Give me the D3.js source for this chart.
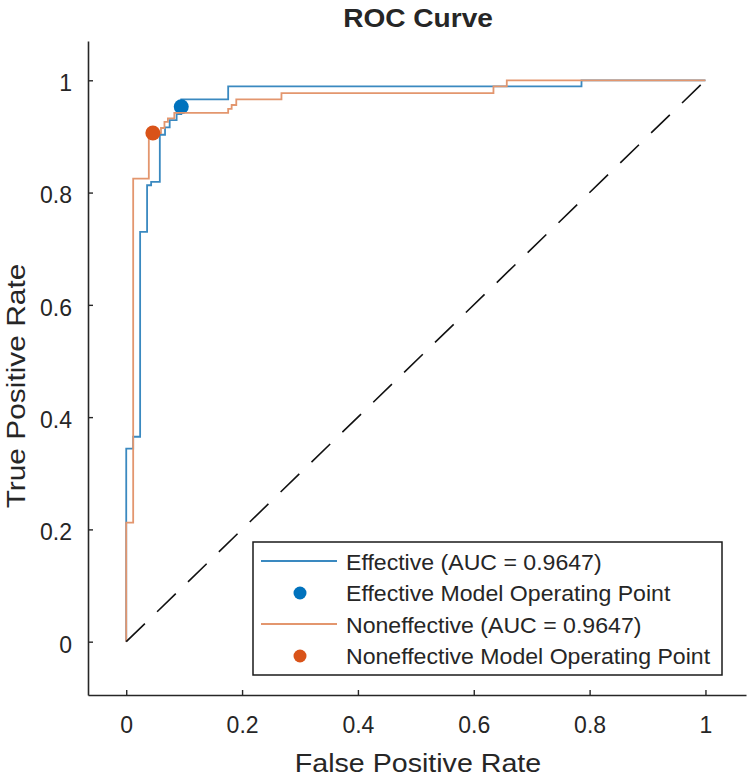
<!DOCTYPE html>
<html>
<head>
<meta charset="utf-8">
<script src="https://cdn.jsdelivr.net/npm/d3@7"></script>
<style>
  html, body { margin: 0; padding: 0; background: #ffffff; }
  svg { display: block; }
  text { font-family: "Liberation Sans", Arial, Helvetica, sans-serif; fill: #262626; }
</style>
</head>
<body>
<svg id="chart" width="750" height="779"></svg>
<script>
// ---- data ----
const titleText = "ROC Curve";
const xLabel = "False Positive Rate";
const yLabel = "True Positive Rate";

const xTicks = [0, 0.2, 0.4, 0.6, 0.8, 1];
const yTicks = [0, 0.2, 0.4, 0.6, 0.8, 1];
const xTickLabels = ["0", "0.2", "0.4", "0.6", "0.8", "1"];
const yTickLabels = ["0", "0.2", "0.4", "0.6", "0.8", "1"];

const effFPR = [0, 0, 0.012, 0.012, 0.024, 0.024, 0.036, 0.036, 0.043, 0.043, 0.058, 0.058, 0.067, 0.067, 0.075, 0.075, 0.087, 0.087, 0.095, 0.095, 0.176, 0.176, 0.786, 0.786, 1];
const effTPR = [0, 0.344, 0.344, 0.365, 0.365, 0.730, 0.730, 0.813, 0.813, 0.819, 0.819, 0.903, 0.903, 0.916, 0.916, 0.929, 0.929, 0.940, 0.940, 0.966, 0.966, 0.989, 0.989, 1, 1];

const nonFPR = [0, 0, 0.012, 0.012, 0.039, 0.039, 0.060, 0.060, 0.066, 0.066, 0.072, 0.072, 0.083, 0.083, 0.176, 0.176, 0.182, 0.182, 0.190, 0.190, 0.268, 0.268, 0.634, 0.634, 0.657, 0.657, 1];
const nonTPR = [0, 0.212, 0.212, 0.825, 0.825, 0.906, 0.906, 0.915, 0.915, 0.926, 0.926, 0.932, 0.932, 0.942, 0.942, 0.949, 0.949, 0.956, 0.956, 0.966, 0.966, 0.977, 0.977, 0.989, 0.989, 1, 1];

const opPoints = [
  { name: "Effective", fpr: 0.095, tpr: 0.953 },
  { name: "Noneffective", fpr: 0.046, tpr: 0.906 }
];

const legendLabels = [
  "Effective (AUC = 0.9647)",
  "Effective Model Operating Point",
  "Noneffective (AUC = 0.9647)",
  "Noneffective Model Operating Point"
];

const chanceFPR = [0, 1];
const chanceTPR = [0, 1];

const xLim = [-0.066, 1.07];
const yLim = [-0.095, 1.07];

// ---- styles ----
const lineBlue = "#3a89c0";
const lineOrange = "#e3966e";
const markBlue = "#0072BD";
const markOrange = "#D95319";
const axisColor = "#262626";

const svg = d3.select("#chart");

const x = d3.scaleLinear().domain(xLim).range([88, 746]);
const y = d3.scaleLinear().domain(yLim).range([695, 41]);

// axes
const xAxis = d3.axisBottom(x)
  .tickValues(xTicks)
  .tickFormat((d, i) => xTickLabels[i])
  .tickSizeInner(-5).tickSizeOuter(0).tickPadding(22);
const yAxis = d3.axisLeft(y)
  .tickValues(yTicks)
  .tickFormat((d, i) => yTickLabels[i])
  .tickSizeInner(-5).tickSizeOuter(0).tickPadding(16);

const gx = svg.append("g").attr("transform", `translate(0,${y(yLim[0])})`).call(xAxis);
const gy = svg.append("g").attr("transform", `translate(${x(xLim[0])},0)`).call(yAxis);

[gx, gy].forEach(g => {
  g.select(".domain").attr("stroke", axisColor).attr("stroke-width", 1.6);
  g.selectAll(".tick line").attr("stroke", axisColor).attr("stroke-width", 1.4);
  g.selectAll(".tick text")
    .attr("fill", axisColor)
    .style("font-family", '"Liberation Sans", Arial, sans-serif')
    .style("font-size", "23px");
});
gy.selectAll(".tick text").attr("dy", "0.45em");

// curves
const line = d3.line().x(d => x(d[0])).y(d => y(d[1]));
const effPts = effFPR.map((v, i) => [v, effTPR[i]]);
const nonPts = nonFPR.map((v, i) => [v, nonTPR[i]]);

svg.append("path").datum(effPts).attr("d", line)
  .attr("fill", "none").attr("stroke", lineBlue).attr("stroke-width", 1.8);
svg.append("circle").attr("cx", x(opPoints[0].fpr)).attr("cy", y(opPoints[0].tpr))
  .attr("r", 7.5).attr("fill", markBlue);
svg.append("path").datum(nonPts).attr("d", line)
  .attr("fill", "none").attr("stroke", lineOrange).attr("stroke-width", 1.8);
svg.append("circle").attr("cx", x(opPoints[1].fpr)).attr("cy", y(opPoints[1].tpr))
  .attr("r", 7.5).attr("fill", markOrange);

// chance diagonal
svg.append("path").datum(chanceFPR.map((v, i) => [v, chanceTPR[i]])).attr("d", line)
  .attr("fill", "none").attr("stroke", "#111").attr("stroke-width", 1.6)
  .attr("stroke-dasharray", "26,17");

// title
svg.append("text")
  .attr("transform", "translate(418,27) scale(1.08,1)")
  .attr("text-anchor", "middle")
  .style("font-size", "26px").style("font-weight", "bold")
  .attr("fill", "#000")
  .text(titleText);

// axis labels
svg.append("text")
  .attr("transform", "translate(418,772) scale(1.1,1)")
  .attr("text-anchor", "middle")
  .style("font-size", "26px")
  .text(xLabel);

svg.append("text")
  .attr("transform", "translate(25,386) rotate(-90) scale(1.15,1)")
  .attr("text-anchor", "middle")
  .style("font-size", "26px")
  .text(yLabel);

// legend
const lg = svg.append("g");
lg.append("rect").attr("x", 253).attr("y", 542).attr("width", 469).attr("height", 133)
  .attr("fill", "#fff").attr("stroke", "#1a1a1a").attr("stroke-width", 1.5);

const rowY = [562, 593, 625, 656];
const legendKinds = [
  { type: "line", color: lineBlue },
  { type: "dot", color: markBlue },
  { type: "line", color: lineOrange },
  { type: "dot", color: markOrange }
];
legendKinds.forEach((k, i) => {
  if (k.type === "line") {
    lg.append("line").attr("x1", 261).attr("x2", 337).attr("y1", rowY[i] - 1).attr("y2", rowY[i] - 1)
      .attr("stroke", k.color).attr("stroke-width", 1.8);
  } else {
    lg.append("circle").attr("cx", 300).attr("cy", rowY[i]).attr("r", 6.5).attr("fill", k.color);
  }
  lg.append("text")
    .attr("transform", `translate(346,${rowY[i] + 8}) scale(1.05,1)`)
    .style("font-size", "22px")
    .attr("fill", "#1a1a1a")
    .text(legendLabels[i]);
});
</script>
</body>
</html>
